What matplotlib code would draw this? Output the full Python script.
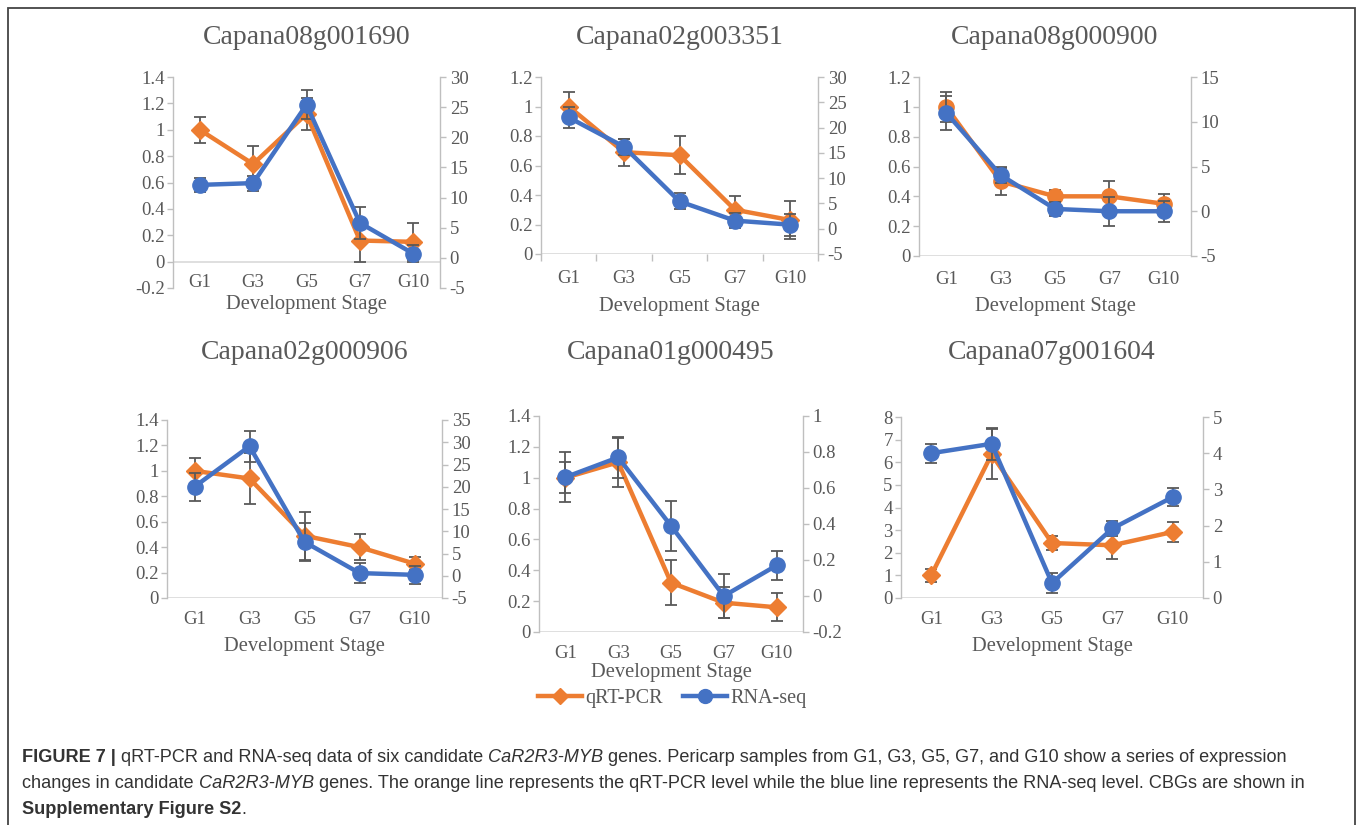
import numpy as np
import matplotlib
matplotlib.use("Agg")
import matplotlib.pyplot as plt
from matplotlib.lines import Line2D
from matplotlib.patches import Rectangle

# ---------------- data ----------------
stages = ["G1", "G3", "G5", "G7", "G10"]
genes = ["Capana08g001690", "Capana02g003351", "Capana08g000900",
         "Capana02g000906", "Capana01g000495", "Capana07g001604"]

qpcr_1 = [1.00, 0.74, 1.12, 0.16, 0.15]
qpcr_err_1 = [0.10, 0.14, 0.12, 0.16, 0.14]
rnaseq_1 = [12.1, 12.4, 25.4, 5.8, 0.7]
rnaseq_err_1 = [1.2, 1.25, 2.4, 2.6, 1.4]

qpcr_2 = [1.00, 0.69, 0.67, 0.30, 0.23]
qpcr_err_2 = [0.10, 0.09, 0.13, 0.09, 0.13]
rnaseq_2 = [22.0, 16.2, 5.4, 1.6, 0.8]
rnaseq_err_2 = [2.0, 1.6, 1.6, 1.5, 2.2]

qpcr_3 = [1.00, 0.50, 0.40, 0.40, 0.35]
qpcr_err_3 = [0.10, 0.09, 0.04, 0.10, 0.065]
rnaseq_3 = [11.0, 4.05, 0.26, 0.0, 0.0]
rnaseq_err_3 = [1.9, 0.9, 0.75, 1.6, 1.2]

qpcr_4 = [1.00, 0.94, 0.49, 0.40, 0.27]
qpcr_err_4 = [0.10, 0.20, 0.19, 0.10, 0.05]
rnaseq_4 = [20.0, 29.1, 7.6, 0.6, 0.2]
rnaseq_err_4 = [3.2, 3.5, 4.2, 2.3, 2.1]

qpcr_5 = [1.00, 1.10, 0.32, 0.19, 0.16]
qpcr_err_5 = [0.10, 0.16, 0.145, 0.10, 0.09]
rnaseq_5 = [0.66, 0.77, 0.39, 0.0, 0.17]
rnaseq_err_5 = [0.14, 0.115, 0.14, 0.12, 0.08]

qpcr_6 = [1.00, 6.35, 2.43, 2.33, 2.92]
qpcr_err_6 = [0.30, 1.10, 0.33, 0.60, 0.44]
rnaseq_6 = [4.00, 4.26, 0.41, 1.92, 2.79]
rnaseq_err_6 = [0.26, 0.44, 0.28, 0.20, 0.26]

left_ranges = [(-0.2, 1.4, 0.2), (0, 1.2, 0.2), (0, 1.2, 0.2),
               (0, 1.4, 0.2), (0, 1.4, 0.2), (0, 8, 1)]
right_ranges = [(-5, 30, 5), (-5, 30, 5), (-5, 15, 5),
                (-5, 35, 5), (-0.2, 1.0, 0.2), (0, 5, 1)]

qpcr_all = [qpcr_1, qpcr_2, qpcr_3, qpcr_4, qpcr_5, qpcr_6]
qpcr_err_all = [qpcr_err_1, qpcr_err_2, qpcr_err_3, qpcr_err_4, qpcr_err_5, qpcr_err_6]
rnaseq_all = [rnaseq_1, rnaseq_2, rnaseq_3, rnaseq_4, rnaseq_5, rnaseq_6]
rnaseq_err_all = [rnaseq_err_1, rnaseq_err_2, rnaseq_err_3, rnaseq_err_4, rnaseq_err_5, rnaseq_err_6]

# ---------------- style ----------------
W, H = 1358, 825
ORANGE = "#ED7D31"
BLUE = "#4472C4"
TXT = "#595959"
SPINE = "#BFBFBF"
ERR = "#595959"
SERIF = "Liberation Serif"
TICK_FS = 13.5

fig = plt.figure(figsize=(W / 100, H / 100), dpi=100)

# pixel layouts: (left, right, top, bottom, ticklabel_y, xlabel_y, title_y)
layouts = [
    (173, 440, 77, 288, 282, 305, 37),
    (541, 818, 77, 254, 278, 306, 37),
    (919, 1191, 77, 256, 279, 307, 37),
    (167, 442, 420, 598, 619, 647, 352),
    (539, 803, 416, 632, 653, 672, 352),
    (901, 1203, 417, 598, 619, 647, 352),
]
orange_markers = ["D", "D", "o", "D", "D", "D"]


def fmt(v):
    v = round(v, 6)
    s = f"{v:g}"
    return "0" if s == "-0" else s


x = np.arange(len(stages))
for i, (l, r, t, b, tly, xly, ty) in enumerate(layouts):
    ax = fig.add_axes([l / W, 1 - b / H, (r - l) / W, (b - t) / H])
    ax.set_facecolor("none")
    ax.set_xlim(-0.5, len(stages) - 0.5)
    lo, hi, st = left_ranges[i]
    ax.set_ylim(lo, hi)
    lt = np.arange(lo, hi + st / 2, st)
    ax.set_yticks(lt, [fmt(v) for v in lt])

    # category tick labels
    pad_px = tly - 8 - b
    ax.set_xticks(x, stages)
    ax.tick_params(axis="x", which="major", length=0, pad=pad_px * 0.72,
                   labelsize=TICK_FS, labelcolor=TXT)
    for lab in ax.get_xticklabels():
        lab.set_fontfamily(SERIF)
    if i == 1:
        ax.set_xticks(np.arange(-0.5, len(stages)), minor=True)
        ax.tick_params(axis="x", which="minor", length=5, width=1,
                       color=SPINE, direction="out")

    ax2 = ax.twinx()
    rlo, rhi, rst = right_ranges[i]
    ax2.set_ylim(rlo, rhi)
    rt = np.arange(rlo, rhi + rst / 2, rst)
    ax2.set_yticks(rt, [fmt(v) for v in rt])

    for a in (ax, ax2):
        for s in a.spines.values():
            s.set_visible(False)
    ax.spines["left"].set_visible(True)
    ax.spines["left"].set_color(SPINE)
    ax.spines["left"].set_linewidth(1.0)
    ax2.spines["right"].set_visible(True)
    ax2.spines["right"].set_color(SPINE)
    ax2.spines["right"].set_linewidth(1.0)

    ax.tick_params(axis="y", length=4, width=1, color=SPINE, pad=2,
                   labelsize=TICK_FS, labelcolor=TXT)
    ax2.tick_params(axis="y", length=4, width=1, color=SPINE, pad=3,
                    labelsize=TICK_FS, labelcolor=TXT)
    for lab in ax.get_yticklabels() + ax2.get_yticklabels():
        lab.set_fontfamily(SERIF)

    # zero (category) axis line
    ax.axhline(0, color="#D9D9D9", lw=1.2, zorder=0.5)

    # x-label
    ax.set_xlabel("Development Stage", fontsize=14.8, color=TXT, family=SERIF)
    ax.xaxis.set_label_coords(0.5, (b - xly) / (b - t))
    ax.xaxis.label.set_va("center")

    # qRT-PCR (left axis)
    ax.errorbar(x, qpcr_all[i], yerr=qpcr_err_all[i], fmt="none", ecolor=ERR,
                elinewidth=1.3, capsize=4, capthick=1.3, zorder=2)
    ax.plot(x, qpcr_all[i], color=ORANGE, lw=3.2, marker=orange_markers[i],
            ms=9 if orange_markers[i] == "D" else 11, zorder=3)
    # RNA-seq (right axis)
    ax2.errorbar(x, rnaseq_all[i], yerr=rnaseq_err_all[i], fmt="none",
                 ecolor=ERR, elinewidth=1.3, capsize=4, capthick=1.3, zorder=2)
    ax2.plot(x, rnaseq_all[i], color=BLUE, lw=3.2, marker="o", ms=11, zorder=3)

    fig.text((l + r) / 2 / W, 1 - ty / H, genes[i], ha="center", va="center",
             fontsize=20, color=TXT, family=SERIF)

# legend
handles = [Line2D([], [], color=ORANGE, lw=3.2, marker="D", ms=8),
           Line2D([], [], color=BLUE, lw=3.2, marker="o", ms=10)]
fig.legend(handles, ["qRT-PCR", "RNA-seq"], loc="center",
           bbox_to_anchor=(672 / W, 1 - 698 / H), ncol=2, frameon=False,
           prop={"family": SERIF, "size": 14.5}, labelcolor=TXT,
           handlelength=2.2, columnspacing=1.0, handletextpad=0.15)

# border
fig.add_artist(Rectangle((8 / W, -0.2), (1355 - 8) / W, 1 - 8 / H + 0.2,
                         transform=fig.transFigure, fill=False,
                         edgecolor="#444444", lw=1.3))

# caption (segments drawn sequentially)
renderer = fig.canvas.get_renderer()
CAP_FONT = "Liberation Sans"
CAP_COL = "#333333"
caption_lines = [
    [("FIGURE 7 |", "bold", "normal"),
     (" qRT-PCR and RNA-seq data of six candidate ", "normal", "normal"),
     ("CaR2R3-MYB", "normal", "italic"),
     (" genes. Pericarp samples from G1, G3, G5, G7, and G10 show a series of expression", "normal", "normal")],
    [("changes in candidate ", "normal", "normal"),
     ("CaR2R3-MYB", "normal", "italic"),
     (" genes. The orange line represents the qRT-PCR level while the blue line represents the RNA-seq level. CBGs are shown in", "normal", "normal")],
    [("Supplementary Figure S2", "bold", "normal"),
     (".", "normal", "normal")],
]
caption_y = [757, 783, 809]


def draw_line(segs, y, size, draw=True):
    xpos = 22
    arts = []
    for txt, wt, st in segs:
        tt = fig.text(xpos / W, 1 - y / H, txt, fontsize=size, fontweight=wt,
                      fontstyle=st, family=CAP_FONT, color=CAP_COL,
                      ha="left", va="center")
        bb = tt.get_window_extent(renderer=renderer)
        xpos += bb.width
        arts.append(tt)
    if not draw:
        for a in arts:
            a.remove()
    return xpos


trial = 10.0
end = draw_line(caption_lines[0], caption_y[0], trial, draw=False)
cap_size = trial * (1292 - 22) / (end - 22)
for segs, y in zip(caption_lines, caption_y):
    draw_line(segs, y, cap_size)

fig.savefig("out.png", dpi=100)
